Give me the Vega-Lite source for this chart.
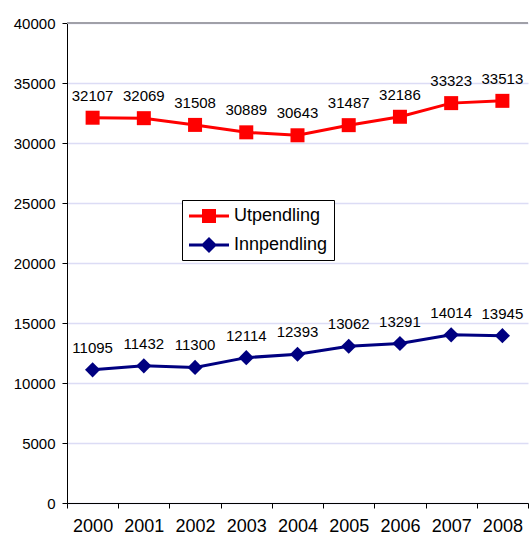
{
  "$schema": "https://vega.github.io/schema/vega-lite/v6.json",
  "width": 461,
  "height": 480,
  "autosize": "none",
  "padding": {"left": 67, "top": 23, "right": 3, "bottom": 38},
  "background": "white",
  "config": {
    "font": "Liberation Sans",
    "view": {"stroke": null}
  },
  "data": {
    "values": [
      {"year": "2000", "series": "Utpendling", "value": 32107},
      {"year": "2001", "series": "Utpendling", "value": 32069},
      {"year": "2002", "series": "Utpendling", "value": 31508},
      {"year": "2003", "series": "Utpendling", "value": 30889},
      {"year": "2004", "series": "Utpendling", "value": 30643},
      {"year": "2005", "series": "Utpendling", "value": 31487},
      {"year": "2006", "series": "Utpendling", "value": 32186},
      {"year": "2007", "series": "Utpendling", "value": 33323},
      {"year": "2008", "series": "Utpendling", "value": 33513},
      {"year": "2000", "series": "Innpendling", "value": 11095},
      {"year": "2001", "series": "Innpendling", "value": 11432},
      {"year": "2002", "series": "Innpendling", "value": 11300},
      {"year": "2003", "series": "Innpendling", "value": 12114},
      {"year": "2004", "series": "Innpendling", "value": 12393},
      {"year": "2005", "series": "Innpendling", "value": 13062},
      {"year": "2006", "series": "Innpendling", "value": 13291},
      {"year": "2007", "series": "Innpendling", "value": 14014},
      {"year": "2008", "series": "Innpendling", "value": 13945}
    ]
  },
  "encoding": {
    "x": {
      "field": "year",
      "type": "ordinal",
      "title": null,
      "scale": {"paddingInner": 0, "paddingOuter": 0},
      "axis": {
        "labelAngle": 0,
        "labelFontSize": 18,
        "labelColor": "black",
        "labelPadding": 9,
        "domainColor": "black",
        "tickColor": "black",
        "tickSize": 5,
        "tickBand": "extent",
        "grid": false
      }
    },
    "y": {
      "field": "value",
      "type": "quantitative",
      "title": null,
      "scale": {"domain": [0, 40000], "nice": false},
      "axis": {
        "values": [0, 5000, 10000, 15000, 20000, 25000, 30000, 35000, 40000],
        "format": "d",
        "labelFontSize": 15,
        "labelColor": "black",
        "labelPadding": 7,
        "domainColor": "black",
        "tickColor": "black",
        "tickSize": 5,
        "gridColor": "#dcdcf5",
        "gridWidth": 1.5
      }
    },
    "color": {
      "field": "series",
      "type": "nominal",
      "scale": {"domain": ["Utpendling", "Innpendling"], "range": ["#ff0000", "#000080"]},
      "legend": {
        "title": null,
        "orient": "none",
        "legendX": 115,
        "legendY": 177,
        "padding": 6,
        "strokeColor": "black",
        "fillColor": "white",
        "labelFontSize": 18,
        "labelColor": "black",
        "symbolSize": 400,
        "symbolOffset": 11,
        "labelOffset": 15,
        "rowPadding": 10,
        "encode": {
          "symbols": {
            "update": {
              "shape": {"signal": "datum.value === 'Utpendling' ? 'M-2,-0.15H2V0.15H-2Z M-0.7,-0.7H0.7V0.7H-0.7Z' : 'M-2,-0.15H2V0.15H-2Z M0,-0.8L0.8,0L0,0.8L-0.8,0Z'"},
              "fill": {"scale": "color", "field": "value"},
              "fillOpacity": {"value": 1},
              "strokeWidth": {"value": 0}
            }
          }
        }
      }
    }
  },
  "layer": [
    {
      "mark": {"type": "rule", "color": "#a0a0a8", "strokeWidth": 1.5},
      "encoding": {"y": {"datum": 40000}, "x": null, "color": null}
    },
    {
      "mark": {"type": "line", "strokeWidth": 3}
    },
    {
      "transform": [{"filter": "datum.series === 'Utpendling'"}],
      "mark": {"type": "point", "filled": true, "opacity": 1, "shape": "square", "size": 196}
    },
    {
      "transform": [{"filter": "datum.series === 'Innpendling'"}],
      "mark": {"type": "point", "filled": true, "opacity": 1, "shape": "diamond", "size": 230}
    },
    {
      "mark": {"type": "text", "dy": -22, "fontSize": 15, "color": "black", "baseline": "middle"},
      "encoding": {
        "text": {"field": "value", "type": "quantitative", "format": "d"},
        "color": null
      }
    }
  ]
}
